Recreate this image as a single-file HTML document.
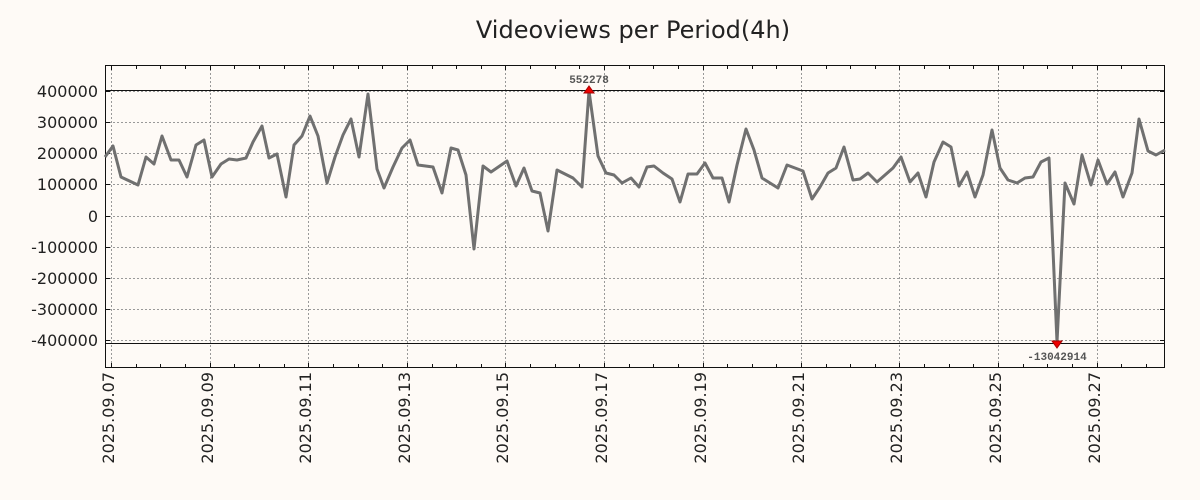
<!DOCTYPE html>
<html><head><meta charset="utf-8"><style>
html,body{margin:0;padding:0;background:#fefaf6;}
svg{display:block;font-family:"DejaVu Sans","Liberation Sans",sans-serif;}
</style></head><body>
<svg width="1200" height="500" viewBox="0 0 1200 500">
<rect width="1200" height="500" fill="#fefaf6"/>
<text x="633" y="38" font-size="24" text-anchor="middle" fill="#222">Videoviews per Period(4h)</text>
<g stroke="#999" stroke-width="1" stroke-dasharray="2,2">
<line x1="105" x2="1165" y1="91.5" y2="91.5"/><line x1="105" x2="1165" y1="122.5" y2="122.5"/><line x1="105" x2="1165" y1="153.5" y2="153.5"/><line x1="105" x2="1165" y1="184.5" y2="184.5"/><line x1="105" x2="1165" y1="216.5" y2="216.5"/><line x1="105" x2="1165" y1="247.5" y2="247.5"/><line x1="105" x2="1165" y1="278.5" y2="278.5"/><line x1="105" x2="1165" y1="309.5" y2="309.5"/><line x1="105" x2="1165" y1="340.5" y2="340.5"/>
<line x1="111.5" x2="111.5" y1="65" y2="368"/><line x1="210.5" x2="210.5" y1="65" y2="368"/><line x1="308.5" x2="308.5" y1="65" y2="368"/><line x1="407.5" x2="407.5" y1="65" y2="368"/><line x1="505.5" x2="505.5" y1="65" y2="368"/><line x1="604.5" x2="604.5" y1="65" y2="368"/><line x1="703.5" x2="703.5" y1="65" y2="368"/><line x1="801.5" x2="801.5" y1="65" y2="368"/><line x1="899.5" x2="899.5" y1="65" y2="368"/><line x1="998.5" x2="998.5" y1="65" y2="368"/><line x1="1097.5" x2="1097.5" y1="65" y2="368"/>
</g>
<g id="tk" stroke="#111" stroke-width="1">
<path d="M111.5 65v5M136.5 65v4M160.5 65v4M185.5 65v4M210.5 65v5M234.5 65v4M259.5 65v4M284.5 65v4M308.5 65v5M333.5 65v4M358.5 65v4M382.5 65v4M407.5 65v5M432.5 65v4M456.5 65v4M481.5 65v4M505.5 65v5M530.5 65v4M555.5 65v4M579.5 65v4M604.5 65v5M629.5 65v4M653.5 65v4M678.5 65v4M703.5 65v5M727.5 65v4M752.5 65v4M776.5 65v4M801.5 65v5M826.5 65v4M850.5 65v4M875.5 65v4M899.5 65v5M924.5 65v4M949.5 65v4M973.5 65v4M998.5 65v5M1023.5 65v4M1047.5 65v4M1072.5 65v4M1097.5 65v5M1121.5 65v4M1146.5 65v4"/>
<path d="M111.5 368v-5M136.5 368v-4M160.5 368v-4M185.5 368v-4M210.5 368v-5M234.5 368v-4M259.5 368v-4M284.5 368v-4M308.5 368v-5M333.5 368v-4M358.5 368v-4M382.5 368v-4M407.5 368v-5M432.5 368v-4M456.5 368v-4M481.5 368v-4M505.5 368v-5M530.5 368v-4M555.5 368v-4M579.5 368v-4M604.5 368v-5M629.5 368v-4M653.5 368v-4M678.5 368v-4M703.5 368v-5M727.5 368v-4M752.5 368v-4M776.5 368v-4M801.5 368v-5M826.5 368v-4M850.5 368v-4M875.5 368v-4M899.5 368v-5M924.5 368v-4M949.5 368v-4M973.5 368v-4M998.5 368v-5M1023.5 368v-4M1047.5 368v-4M1072.5 368v-4M1097.5 368v-5M1121.5 368v-4M1146.5 368v-4"/>
<path d="M105 91.5h5M105 122.5h5M105 153.5h5M105 184.5h5M105 216.5h5M105 247.5h5M105 278.5h5M105 309.5h5M105 340.5h5M1165 91.5h-5M1165 122.5h-5M1165 153.5h-5M1165 184.5h-5M1165 216.5h-5M1165 247.5h-5M1165 278.5h-5M1165 309.5h-5M1165 340.5h-5"/>
</g>
<line x1="105" x2="1165" y1="90.5" y2="90.5" stroke="#111" stroke-width="1"/>
<line x1="105" x2="1165" y1="343.5" y2="343.5" stroke="#111" stroke-width="1"/>
<rect x="105.5" y="65.5" width="1059" height="302" fill="none" stroke="#111" stroke-width="1"/>
<g font-size="16" fill="#222" text-anchor="end">
<text x="98" y="97">400000</text><text x="98" y="128">300000</text><text x="98" y="159">200000</text><text x="98" y="190">100000</text><text x="98" y="222">0</text><text x="98" y="253">-100000</text><text x="98" y="284">-200000</text><text x="98" y="315">-300000</text><text x="98" y="346">-400000</text>
</g>
<g font-size="16" fill="#222" text-anchor="end">
<text transform="translate(114,372) rotate(-90)">2025.09.07</text>
<text transform="translate(213,372) rotate(-90)">2025.09.09</text>
<text transform="translate(311,372) rotate(-90)">2025.09.11</text>
<text transform="translate(410,372) rotate(-90)">2025.09.13</text>
<text transform="translate(508,372) rotate(-90)">2025.09.15</text>
<text transform="translate(607,372) rotate(-90)">2025.09.17</text>
<text transform="translate(706,372) rotate(-90)">2025.09.19</text>
<text transform="translate(804,372) rotate(-90)">2025.09.21</text>
<text transform="translate(902,372) rotate(-90)">2025.09.23</text>
<text transform="translate(1001,372) rotate(-90)">2025.09.25</text>
<text transform="translate(1100,372) rotate(-90)">2025.09.27</text>
</g>
<polyline fill="none" stroke="#707070" stroke-width="3" stroke-linejoin="round" points="105,157 113,146 121,177 138,185 146,157 154,164 162,136 171,160 179,160 187,177 196,145 204,140 212,177 221,164 229,159 237,160 246,158 253,142 262,126 269,158 277,154 286,197 294,145 302,136 310,116 318,136 327,183 335,157 343,135 351,119 359,157 368,94 377,169 384,188 393,167 402,148 410,140 418,165 433,167 442,193 451,148 458,150 466,175 474,249 483,166 491,172 507,161 516,186 524,168 532,191 540,193 548,231 557,170 565,174 573,178 582,187 589,91 598,156 606,173 614,175 622,183 631,178 639,187 647,167 654,166 663,173 672,179 680,202 688,174 697,174 705,163 713,178 722,178 729,202 737,165 746,129 754,150 762,178 778,188 787,165 795,168 803,171 812,199 820,187 828,173 836,168 844,147 853,180 860,179 868,173 877,182 885,175 893,168 901,157 910,182 918,173 926,197 934,162 943,142 951,147 959,186 967,172 975,197 983,175 992,130 1000,168 1008,180 1017,183 1025,178 1033,177 1041,162 1049,158 1057,342 1065,183 1074,204 1082,155 1091,185 1098,160 1107,184 1115,172 1123,197 1132,173 1139,119 1148,151 1156,155 1165,150"/>
<polygon points="584,93 594,93 589,86" fill="#e00" stroke="#a00" stroke-width="1"/>
<polygon points="1052,341 1062,341 1057,348" fill="#e00" stroke="#a00" stroke-width="1"/>
<g font-size="11" fill="#555" text-anchor="middle" font-family="'Liberation Mono',monospace" font-weight="bold">
<text x="589" y="83">552278</text>
<text x="1057" y="360">-13042914</text>
</g>
</svg>
</body></html>
